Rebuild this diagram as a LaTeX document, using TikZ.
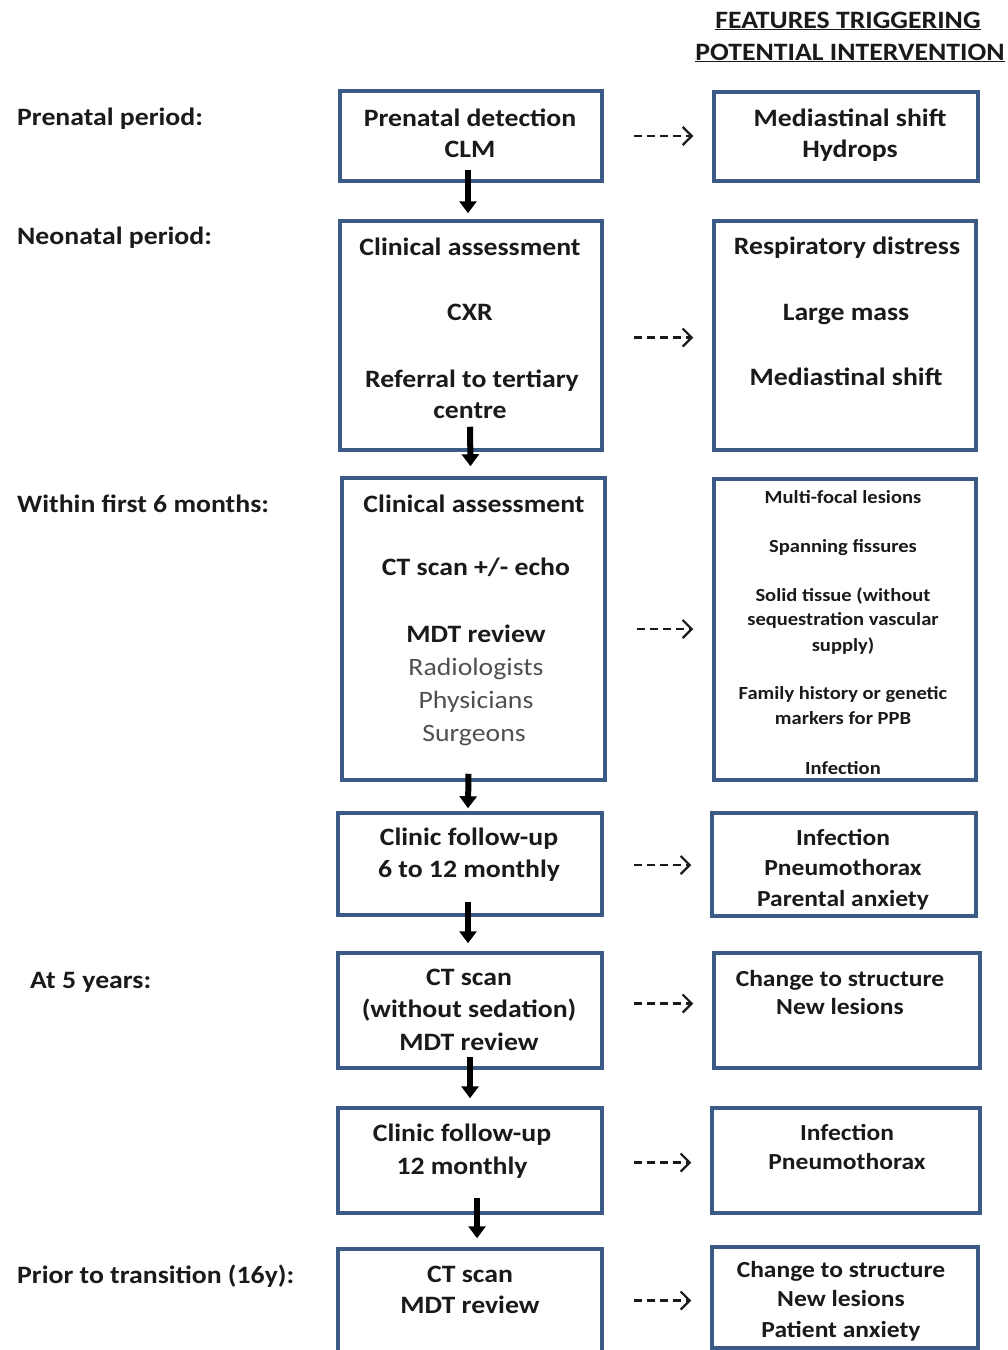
\documentclass[tikz,border=0pt]{standalone}
\usepackage{fontspec}
\setmainfont{Carlito}[FakeStretch=1.11]
\usetikzlibrary{arrows.meta}
\definecolor{boxblue}{HTML}{3B5B86}
\definecolor{textc}{HTML}{1A1A1A}
\definecolor{greyt}{HTML}{505050}
\tikzset{
  box/.style={draw=boxblue, line width=3.5pt, rectangle, inner sep=0pt},
  txt/.style={anchor=base, yshift=-8pt, inner sep=0pt, text=textc, font=\bfseries\fontsize{25}{30}\selectfont},
  txtb/.style={anchor=base, yshift=-8pt, inner sep=0pt, text=textc, font=\bfseries\fontsize{23}{28}\selectfont},
  lbl/.style={anchor=base west, yshift=-8pt, inner sep=0pt, text=textc, font=\bfseries\fontsize{25}{30}\selectfont},
  small/.style={anchor=base, yshift=-6pt, inner sep=0pt, text=textc, font=\bfseries\fontsize{18.5}{22}\selectfont},
  grey/.style={anchor=base, yshift=-8pt, inner sep=0pt, text=greyt, font=\fontsize{25}{30}\selectfont},
  bigarrow/.style={line width=6pt, -{Triangle[width=17pt,length=12pt]}, black},
  dasharrow/.style={line width=2.2pt, dash pattern=on 8pt off 5pt, -{Straight Barb[length=9pt,width=18pt,line width=2.2pt]}, textc, shorten <=30pt, shorten >=19pt}
}
\begin{document}
\begin{tikzpicture}[x=1pt,y=-1pt]
\useasboundingbox[fill=white] (0,0) rectangle (1008,1350);
\clip (0,0) rectangle (1008,1350);

% header
\node[txt] (h1) at (848,20) {\underline{FEATURES TRIGGERING}};
\node[txt] (h2) at (850,52) {\underline{POTENTIAL INTERVENTION}};

% left labels
\node[lbl] (p1) at (17,117) {Prenatal period:};
\node[lbl] (p2) at (17,236) {Neonatal period:};
\node[lbl] (p3) at (17,504) {Within first 6 months:};
\node[lbl] (p4) at (30,980) {At 5 years:};
\node[lbl] (p5) at (17,1275) {Prior to transition (16y):};

% left boxes
\node[box, minimum width=262pt, minimum height=90pt] (l1) at (471,136) {};
\node[box, minimum width=262pt, minimum height=229pt] (l2) at (471,335.5) {};
\node[box, minimum width=263pt, minimum height=302pt] (l3) at (473.5,629) {};
\node[box, minimum width=264pt, minimum height=102pt] (l4) at (470,864) {};
\node[box, minimum width=264pt, minimum height=115pt] (l5) at (470,1010.5) {};
\node[box, minimum width=264pt, minimum height=105pt] (l6) at (470,1160.5) {};
\node[box, minimum width=264pt, minimum height=115pt] (l7) at (470,1306.5) {};

% right boxes
\node[box, minimum width=264pt, minimum height=89pt] (r1) at (846,136.5) {};
\node[box, minimum width=262pt, minimum height=229pt] (r2) at (845,335.5) {};
\node[box, minimum width=262pt, minimum height=301pt] (r3) at (845,629.5) {};
\node[box, minimum width=264pt, minimum height=103pt] (r4) at (844,864.5) {};
\node[box, minimum width=266pt, minimum height=115pt] (r5) at (847,1010.5) {};
\node[box, minimum width=268pt, minimum height=105pt] (r6) at (846,1160.5) {};
\node[box, minimum width=266pt, minimum height=101pt] (r7) at (845,1297.5) {};

% left texts
\node[txt] (t1a) at (470,118) {Prenatal detection};
\node[txt] (t1b) at (470,149) {CLM};

\node[txt] (t2a) at (470,247) {Clinical assessment};
\node[txt] (t2b) at (470,312) {CXR};
\node[txt] (t2c) at (472,379) {Referral to tertiary};
\node[txt] (t2d) at (470,410) {centre};

\node[txt] (t3a) at (474,504) {Clinical assessment};
\node[txt] (t3b) at (476,567) {CT scan +/- echo};
\node[txt] (t3c) at (476,634) {MDT review};
\node[grey] (t3d) at (476,667) {Radiologists};
\node[grey] (t3e) at (476,700) {Physicians};
\node[grey] (t3f) at (474,733) {Surgeons};

\node[txt] (t4a) at (469,837) {Clinic follow-up};
\node[txt] (t4b) at (469,869) {6 to 12 monthly};

\node[txt] (t5a) at (469,977) {CT scan};
\node[txt] (t5b) at (469,1009) {(without sedation)};
\node[txt] (t5c) at (469,1042) {MDT review};

\node[txt] (t6a) at (462,1133) {Clinic follow-up};
\node[txt] (t6b) at (462,1166) {12 monthly};

\node[txt] (t7a) at (470,1274) {CT scan};
\node[txt] (t7b) at (470,1305) {MDT review};

% right texts
\node[txt] (s1a) at (850,118) {Mediastinal shift};
\node[txt] (s1b) at (850,149) {Hydrops};

\node[txt] (s2a) at (847,246) {Respiratory distress};
\node[txt] (s2b) at (846,312) {Large mass};
\node[txt] (s2c) at (846,377) {Mediastinal shift};

\node[small] (s3a) at (843,497) {Multi-focal lesions};
\node[small] (s3b) at (843,546) {Spanning fissures};
\node[small] (s3c) at (843,595) {Solid tissue (without};
\node[small] (s3d) at (843,619) {sequestration vascular};
\node[small] (s3e) at (843,645) {supply)};
\node[small] (s3f) at (843,693) {Family history or genetic};
\node[small] (s3g) at (843,718) {markers for PPB};
\node[small] (s3h) at (843,768) {Infection};

\node[txtb] (s4a) at (843,837) {Infection};
\node[txtb] (s4b) at (843,867) {Pneumothorax};
\node[txtb] (s4c) at (843,898) {Parental anxiety};

\node[txtb] (s5a) at (840,978) {Change to structure};
\node[txtb] (s5b) at (840,1006) {New lesions};

\node[txtb] (s6a) at (847,1132) {Infection};
\node[txtb] (s6b) at (847,1161) {Pneumothorax};

\node[txtb] (s7a) at (841,1269) {Change to structure};
\node[txtb] (s7b) at (841,1298) {New lesions};
\node[txtb] (s7c) at (841,1329) {Patient anxiety};

% black down arrows
\draw[bigarrow] ([xshift=-3pt,yshift=13pt]l1.south) -- ([xshift=-3pt,yshift=6pt]l2.north);
\draw[bigarrow] ([xshift=-1pt,yshift=25pt]l2.south) -- ([xshift=-3pt,yshift=10pt]l3.north);
\draw[bigarrow] ([xshift=-5pt,yshift=8pt]l3.south) -- ([xshift=-2pt,yshift=3pt]l4.north);
\draw[bigarrow] ([xshift=-2pt,yshift=15pt]l4.south) -- ([xshift=-2pt,yshift=8pt]l5.north);
\draw[bigarrow] ([xshift=0pt,yshift=13pt]l5.south) -- ([xshift=0pt,yshift=8pt]l6.north);
\draw[bigarrow] ([xshift=7pt,yshift=17pt]l6.south) -- ([xshift=7pt,yshift=9pt]l7.north);

% dashed arrows
\draw[dasharrow] (l1.east) -- (l1.east -| r1.west);
\draw[dasharrow] ([yshift=-2pt]l2.east) -- ([yshift=-2pt]l2.east -| r2.west);
\draw[dasharrow] (l3.east) -- (l3.east -| r3.west);
\draw[dasharrow] ([yshift=-1pt]l4.east) -- ([yshift=-1pt]l4.east -| r4.west);
\draw[dasharrow] ([yshift=7pt]l5.east) -- ([yshift=7pt]l5.east -| r5.west);
\draw[dasharrow] ([yshift=-2pt]l6.east) -- ([yshift=-2pt]l6.east -| r6.west);
\draw[dasharrow] ([yshift=6pt]l7.east) -- ([yshift=6pt]l7.east -| r7.west);
\end{tikzpicture}
\end{document}
